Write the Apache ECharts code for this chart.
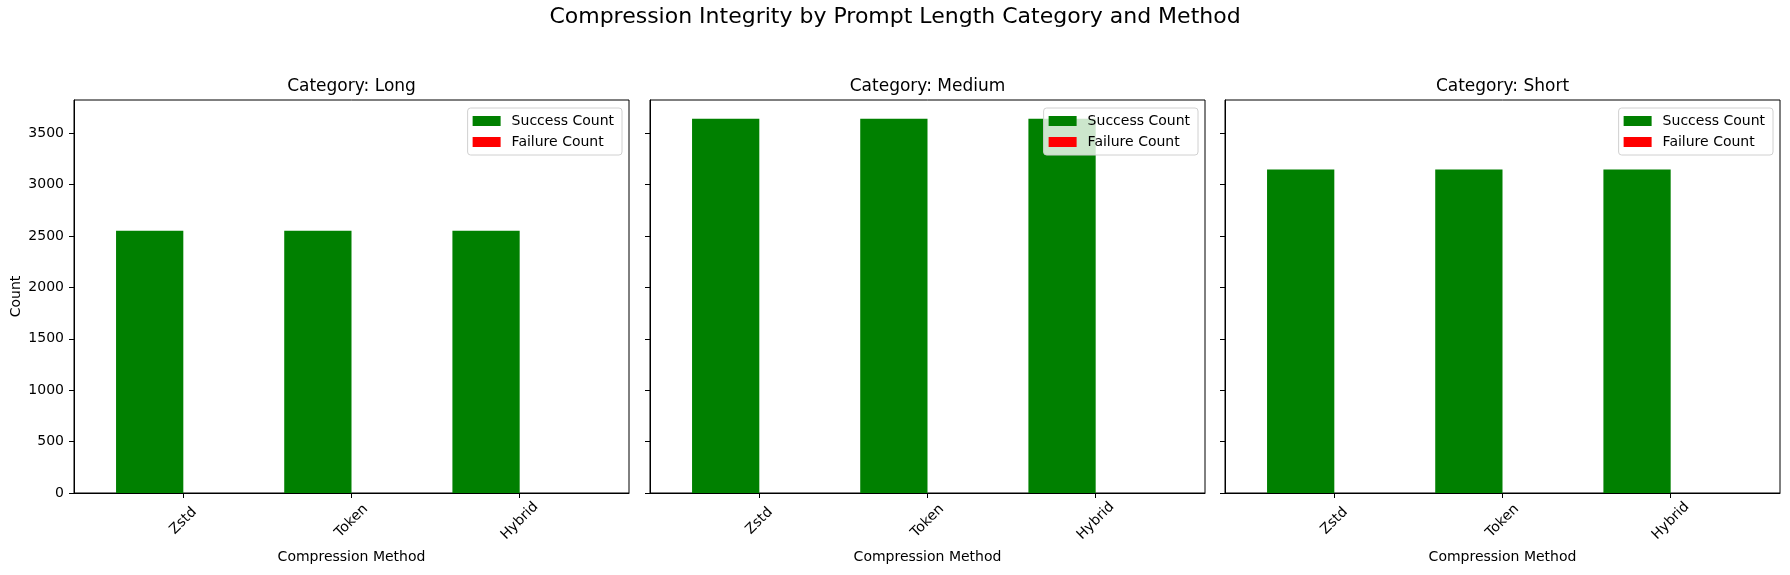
<!DOCTYPE html>
<html>
<head>
  <meta charset="utf-8">
  <script src="https://cdn.jsdelivr.net/npm/echarts@6/dist/echarts.min.js"></script>
  <style>
    html, body { margin: 0; padding: 0; background: #fff; }
    #main { width: 1790px; height: 575px; }
  </style>
</head>
<body>
<div id="main"></div>
<script>
  // data
  var categories = ['Long', 'Medium', 'Short']
  var methods = ['Zstd', 'Token', 'Hybrid']
  var successLong = [2550, 2550, 2550]
  var successMedium = [3640, 3640, 3640]
  var successShort = [3145, 3145, 3145]
  var failureLong = [0, 0, 0]
  var failureMedium = [0, 0, 0]
  var failureShort = [0, 0, 0]
  var yTicks = [0, 500, 1000, 1500, 2000, 2500, 3000, 3500]

  var successData = [successLong, successMedium, successShort]
  var failureData = [failureLong, failureMedium, failureShort]

  var font = 'DejaVu Sans'
  var panelLeft = [74, 650, 1225]
  var panelWidth = 555
  var panelTop = 100
  var panelHeight = 393
  var yMax = 3822

  var chart = echarts.init(document.getElementById('main'))

  var titles = [{
    text: 'Compression Integrity by Prompt Length Category and Method',
    left: 'center',
    top: 6,
    padding: 0,
    textStyle: { fontFamily: font, fontSize: 22, fontWeight: 'normal', color: '#000' }
  }]
  var grids = []
  var xAxes = []
  var yAxes = []
  var legends = []
  var series = []

  function pairs (vals) {
    return vals.map(function (v, j) { return [j, v] })
  }

  categories.forEach(function (cat, i) {
    titles.push({
      text: 'Category: ' + cat,
      left: panelLeft[i] + panelWidth / 2,
      textAlign: 'center',
      top: 78,
      padding: 0,
      textStyle: { fontFamily: font, fontSize: 17, fontWeight: 'normal', color: '#000' }
    })
    grids.push({
      left: panelLeft[i],
      top: panelTop,
      width: panelWidth,
      height: panelHeight,
      show: true,
      borderColor: '#000',
      borderWidth: 1,
      backgroundColor: 'transparent'
    })
    xAxes.push({
      type: 'value',
      gridIndex: i,
      min: -0.65,
      max: 2.65,
      name: 'Compression Method',
      nameLocation: 'middle',
      nameGap: 64,
      nameTextStyle: { fontFamily: font, fontSize: 14, color: '#000', verticalAlign: 'middle' },
      splitLine: { show: false },
      axisLine: { show: true, onZero: false, lineStyle: { color: '#000', width: 1 } },
      axisTick: { show: true, customValues: [0, 1, 2], length: 5, lineStyle: { color: '#000' } },
      axisLabel: {
        show: true,
        customValues: [0, 1, 2],
        formatter: function (v) { return methods[Math.round(v)] },
        rotate: 45,
        align: 'center',
        verticalAlign: 'middle',
        margin: 28,
        fontFamily: font,
        fontSize: 14,
        color: '#000'
      }
    })
    yAxes.push({
      type: 'value',
      gridIndex: i,
      min: 0,
      max: yMax,
      name: i === 0 ? 'Count' : '',
      nameLocation: 'middle',
      nameGap: 58,
      nameRotate: 90,
      nameTextStyle: { fontFamily: font, fontSize: 14, color: '#000', verticalAlign: 'middle' },
      splitLine: { show: false },
      axisLine: { show: true, onZero: false, lineStyle: { color: '#000', width: 1 } },
      axisTick: { show: true, customValues: yTicks, length: 5, lineStyle: { color: '#000' } },
      axisLabel: {
        show: i === 0,
        customValues: yTicks,
        formatter: function (v) { return String(v) },
        margin: 10,
        fontFamily: font,
        fontSize: 14,
        color: '#000'
      }
    })
    legends.push({
      orient: 'vertical',
      right: 1790 - (panelLeft[i] + panelWidth - 7),
      top: 108,
      itemWidth: 28,
      itemHeight: 10,
      itemGap: 7,
      padding: [6, 8, 6, 5],
      backgroundColor: 'rgba(255,255,255,0.8)',
      borderColor: '#d0d0d0',
      borderWidth: 1,
      borderRadius: 3,
      icon: 'rect',
      textStyle: { fontFamily: font, fontSize: 14, color: '#000', lineHeight: 14, padding: [0, 0, 0, 6] },
      data: ['Success Count', 'Failure Count']
    })
    series.push({
      name: 'Success Count',
      type: 'bar',
      xAxisIndex: i,
      yAxisIndex: i,
      barWidth: '40%',
      barGap: '0%',
      itemStyle: { color: '#008000' },
      data: pairs(successData[i])
    })
    series.push({
      name: 'Failure Count',
      type: 'bar',
      xAxisIndex: i,
      yAxisIndex: i,
      barWidth: '40%',
      barGap: '0%',
      itemStyle: { color: '#ff0000' },
      data: pairs(failureData[i])
    })
  })

  chart.setOption({
    animation: false,
    title: titles,
    grid: grids,
    xAxis: xAxes,
    yAxis: yAxes,
    legend: legends,
    series: series
  })
</script>
</body>
</html>
